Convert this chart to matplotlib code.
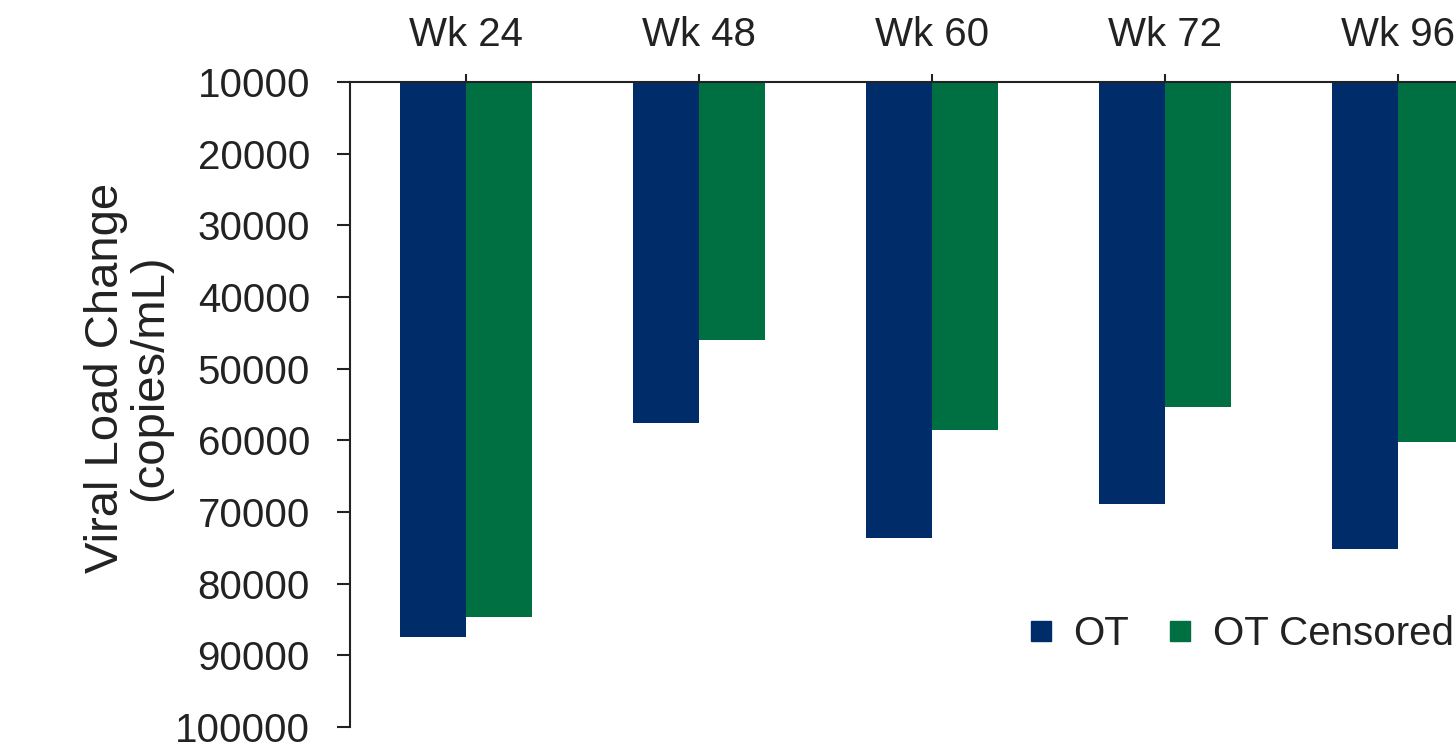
import matplotlib
matplotlib.use("Agg")
import matplotlib.pyplot as plt
import numpy as np
from matplotlib.lines import Line2D

categories = ["Wk 24", "Wk 48", "Wk 60", "Wk 72", "Wk 96"]
ot_values = [87500, 57600, 73600, 68900, 75200]
ot_censored_values = [84600, 46000, 58500, 55400, 60300]
series_labels = ["OT", "OT Censored"]
y_ticks = [10000, 20000, 30000, 40000, 50000, 60000, 70000, 80000, 90000, 100000]
y_label = "Viral Load Change\n(copies/mL)"

plt.rcParams['font.family'] = ['Liberation Sans', 'DejaVu Sans']

W, H = 1456, 755
fig = plt.figure(figsize=(W / 100, H / 100), dpi=100)
ax = fig.add_axes([349.5 / W, 1 - 727 / H, 1165 / W, 645 / H])

c_ot = "#002D69"
c_cen = "#007042"
base = 10000
x = np.arange(len(categories))
bw = 0.285
ax.bar(x - bw / 2, np.array(ot_values) - base, bw, bottom=base, color=c_ot, zorder=2)
ax.bar(x + bw / 2, np.array(ot_censored_values) - base, bw, bottom=base, color=c_cen, zorder=2)

ax.set_xlim(-0.5, 4.5)
ax.set_ylim(100000, 10000)
ax.set_yticks(y_ticks)
ax.set_yticklabels([str(v) for v in y_ticks])
ax.set_xticks(x)
ax.set_xticklabels(categories)

ax.xaxis.tick_top()
for s in ["right", "bottom"]:
    ax.spines[s].set_visible(False)
for s in ["top", "left"]:
    ax.spines[s].set_linewidth(1.5)
    ax.spines[s].set_color("#222222")
ax.tick_params(axis="x", which="both", direction="out", length=6, width=1.5,
               color="#222222", labelsize=29, pad=14, labelcolor="#222222")
ax.tick_params(axis="y", which="both", direction="out", length=9.5, width=1.5,
               color="#222222", labelsize=29, pad=19, labelcolor="#222222")

fig.text(128.5 / W, 1 - 378 / H, y_label, rotation=90, ha="center", va="center",
         multialignment="center", fontsize=34, color="#222222", linespacing=1.0)

handles = [Line2D([], [], marker="s", linestyle="none", markersize=15,
                  markerfacecolor=c, markeredgecolor=c) for c in (c_ot, c_cen)]
fig.legend(handles, series_labels, loc="center left",
           bbox_to_anchor=(1030 / W, 1 - 634 / H), bbox_transform=fig.transFigure,
           frameon=False, ncol=2, fontsize=29, borderpad=0, borderaxespad=0,
           handlelength=0.53, handletextpad=0.55, columnspacing=1.0,
           labelcolor="#222222")

fig.savefig("out.png", dpi=100)
